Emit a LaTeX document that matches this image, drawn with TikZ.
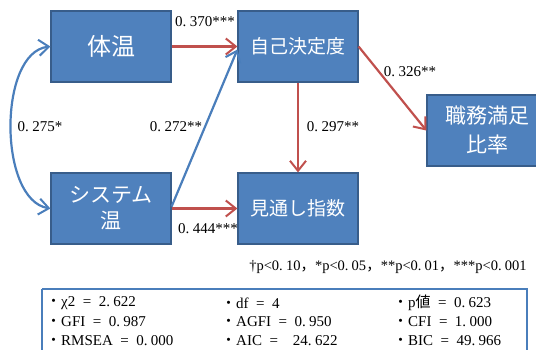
\documentclass[tikz,border=0pt]{standalone}
\usepackage{fontspec}
\setmainfont{Liberation Serif}
\newfontfamily\jp{Noto Sans CJK JP}
\usetikzlibrary{arrows.meta}
\definecolor{boxfill}{HTML}{4F81BD}
\definecolor{boxline}{HTML}{385D8A}
\definecolor{redline}{HTML}{C0504D}
\definecolor{blueline}{HTML}{4A7EBB}
\newcommand{\dotsp}{.\kern0.22em}
\newcommand{\eqsp}{\hspace{0.5em}=\hspace{0.5em}}
\begin{document}
\begin{tikzpicture}[x=1pt,y=-1pt,
  box/.style={draw=boxline, line width=1.2pt, fill=boxfill, text=white, align=center, inner sep=0pt, minimum width=120pt, minimum height=71pt},
  barb/.style={Straight Barb[length=10pt,width=16pt,line width=2pt]},
  tip/.style={-{Straight Barb[length=10pt,width=16pt,line width=2pt]}},
  redarrow/.style={draw=redline, line width=2.2pt, tip},
  bluearrow/.style={draw=blueline, line width=2.2pt, tip},
  lbl/.style={font=\fontsize{15}{15}\selectfont, inner sep=0pt},
  stat/.style={font=\fontsize{15}{15}\selectfont, inner sep=0pt, anchor=west},
]
\useasboundingbox (0,0) rectangle (536,349);
% boxes
\node[box, font=\jp\fontsize{24}{28}\selectfont] (tai) at (111,46.5) {体温};
\node[box, font=\jp\fontsize{19}{22}\selectfont] (jiko) at (298,46.5) {自己決定度};
\node[box, font=\jp\fontsize{21}{26}\selectfont] (sys) at (111,208.5) {システム\\温};
\node[box, font=\jp\fontsize{19}{22}\selectfont] (mit) at (298,208.5) {見通し指数};
\node[box, font=\jp\fontsize{21}{29}\selectfont] (shoku) at (487,130.5) {職務満足\\比率};
% arrows
\draw[redarrow] (tai.east) -- (jiko.west);
\draw[redarrow] (sys.east) -- (mit.west);
\draw[redarrow] (jiko.south) -- (mit.north);
\draw[redarrow] (jiko.east) -- (shoku.west);
\draw[bluearrow] ([yshift=2pt]sys.east) -- ([yshift=-3pt]jiko.west);
\draw[draw=blueline, line width=2.2pt, {Straight Barb[length=10pt,width=16pt,line width=2pt]}-{Straight Barb[length=10pt,width=16pt,line width=2pt]}]
  (tai.west) .. controls (-2,52) and (-2,200) .. (sys.west);
% labels
\node[lbl] (l1) at (205,22) {0\dotsp370***};
\node[lbl] (l2) at (208,229) {0\dotsp444***};
\node[lbl] (l3) at (176,127) {0\dotsp272**};
\node[lbl] (l4) at (40,127) {0\dotsp275*};
\node[lbl] (l5) at (333,127) {0\dotsp297**};
\node[lbl] (l6) at (410,72) {0\dotsp326**};
\node[font=\fontsize{14.5}{14.5}\selectfont, inner sep=0pt] (fn) at (388,267) {†p<0\dotsp10{\jp ，}*p<0\dotsp05{\jp ，}**p<0\dotsp01{\jp ，}***p<0\dotsp001};
% fit box
\draw[draw=blueline, line width=1.2pt] (42,289) -- (527,289) -- (527,360) (42,289) -- (42,360);
\node[stat] (s1) at (46,303) {{\jp ・}χ2\eqsp 2\dotsp622};
\node[stat] (s2) at (221,303) {{\jp ・}df\eqsp 4};
\node[stat] (s3) at (393,303) {{\jp ・}p{\jp 値}\eqsp 0\dotsp623};
\node[stat] (s4) at (46,322) {{\jp ・}GFI\eqsp 0\dotsp987};
\node[stat] (s5) at (221,322) {{\jp ・}AGFI\eqsp 0\dotsp950};
\node[stat] (s6) at (393,322) {{\jp ・}CFI\eqsp 1\dotsp000};
\node[stat] (s7) at (46,341) {{\jp ・}RMSEA\eqsp 0\dotsp000};
\node[stat] (s8) at (221,341) {{\jp ・}AIC\eqsp\hspace{0.5em}24\dotsp622};
\node[stat] (s9) at (393,341) {{\jp ・}BIC\eqsp 49\dotsp966};
\end{tikzpicture}
\end{document}
